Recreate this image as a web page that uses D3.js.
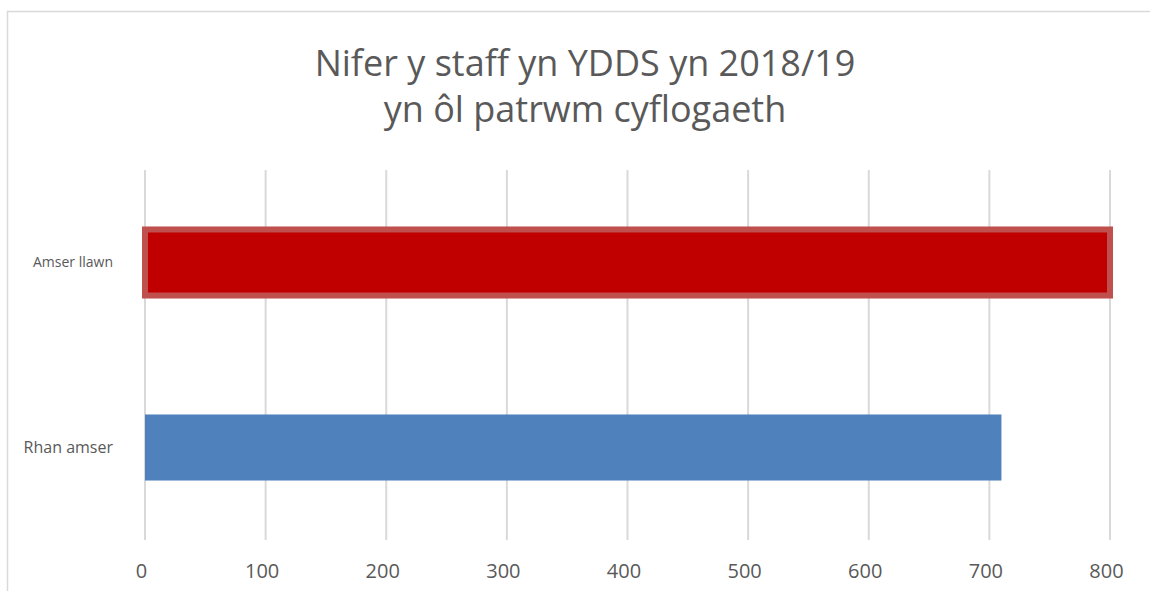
<!DOCTYPE html>
<html>
<head>
<meta charset="utf-8">
<script src="https://cdn.jsdelivr.net/npm/d3@7"></script>
<style>
  body { margin: 0; background: #fff; }
  svg { display: block; font-family: "Open Sans", "Noto Sans", sans-serif; }
</style>
</head>
<body>
<div id="chart"></div>
<script>
// data
var categories = ["Amser llawn", "Rhan amser"];
var values = [800, 710];
var tickValues = [0, 100, 200, 300, 400, 500, 600, 700, 800];
var titleLines = ["Nifer y staff yn YDDS yn 2018/19", "yn ôl patrwm cyflogaeth"];

var width = 1150, height = 591;
var textColor = "#595959", gridColor = "#d9d9d9";

var svg = d3.select("#chart").append("svg")
    .attr("width", width)
    .attr("height", height);

// chart frame (runs off the right and bottom edge)
svg.append("rect")
    .attr("x", 7.5).attr("y", 11.5)
    .attr("width", 1300).attr("height", 800)
    .attr("fill", "#fff")
    .attr("stroke", gridColor)
    .attr("stroke-width", 1.5);

var x = d3.scaleLinear().domain([0, 800]).range([145, 1110]);
var y = d3.scaleBand().domain(categories).range([170, 540])
    .paddingInner(0.643).paddingOuter(0.3215);

// title
svg.selectAll(".title")
    .data(titleLines)
    .enter().append("text")
    .attr("class", "title")
    .attr("x", 585)
    .attr("y", function (d, i) { return 76 + i * 46; })
    .attr("text-anchor", "middle")
    .attr("fill", textColor)
    .style("font-size", "36px")
    .text(function (d) { return d; });

// gridlines
svg.append("g")
    .selectAll("line")
    .data(tickValues)
    .enter().append("line")
    .attr("x1", function (d) { return x(d); })
    .attr("x2", function (d) { return x(d); })
    .attr("y1", 170).attr("y2", 540)
    .attr("stroke", gridColor)
    .attr("stroke-width", 2);

// bars
var colors = { "Amser llawn": "#c00000", "Rhan amser": "#4f81bd" };
svg.append("g")
    .selectAll("rect")
    .data(categories)
    .enter().append("rect")
    .attr("x", function (d) { return x(0); })
    .attr("y", function (d) { return y(d); })
    .attr("width", function (d, i) { return x(values[i]) - x(0); })
    .attr("height", y.bandwidth())
    .attr("fill", function (d) { return colors[d]; })
    .attr("stroke", function (d, i) { return i === 0 ? "#c0504d" : "none"; })
    .attr("stroke-width", 6);

// x axis labels
var xAxis = d3.axisBottom(x).tickValues(tickValues).tickSize(0).tickPadding(0);
var gx = svg.append("g")
    .attr("transform", "translate(-4,564)")
    .call(xAxis);
gx.select(".domain").remove();
gx.selectAll("text")
    .attr("fill", textColor)
    .attr("dy", "0.71em")
    .style("font-size", "20px")
    .style("font-family", "\"Open Sans\", \"Noto Sans\", sans-serif");

// category labels
var yAxis = d3.axisLeft(y).tickSize(0).tickPadding(0);
var gy = svg.append("g")
    .attr("transform", "translate(113,0)")
    .call(yAxis);
gy.select(".domain").remove();
gy.selectAll("text")
    .attr("fill", textColor)
    .style("font-size", function (d, i) { return i === 0 ? "14px" : "16px"; })
    .style("font-family", "\"Open Sans\", \"Noto Sans\", sans-serif");
</script>
</body>
</html>
